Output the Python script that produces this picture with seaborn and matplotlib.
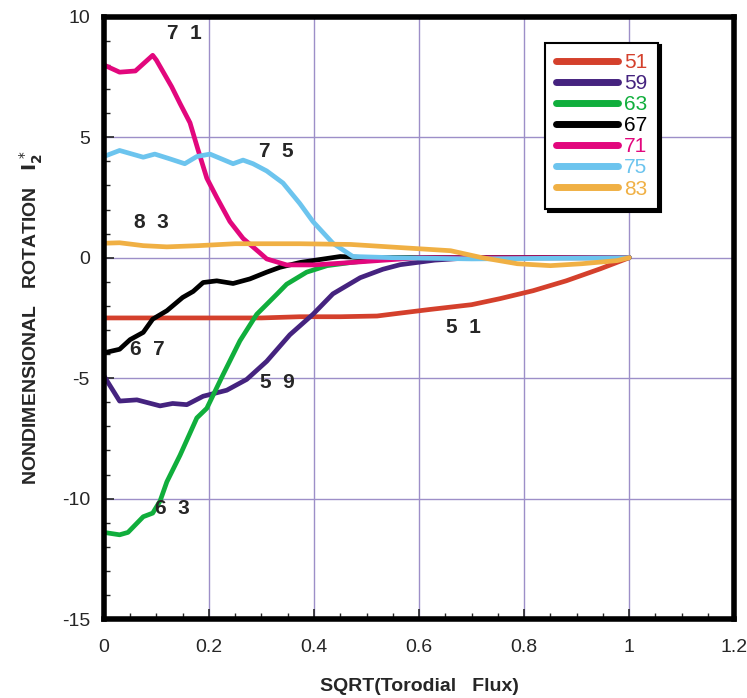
import numpy as np
import pandas as pd
import matplotlib
matplotlib.use("Agg")
import matplotlib.pyplot as plt
import seaborn as sns

# profiles
x51 = [0.0, 0.1, 0.2, 0.3, 0.373, 0.45, 0.52, 0.564, 0.62, 0.66, 0.70, 0.754, 0.817, 0.88, 0.945, 1.0]
y51 = [-2.5, -2.5, -2.5, -2.5, -2.45, -2.45, -2.42, -2.3, -2.15, -2.05, -1.95, -1.7, -1.37, -0.96, -0.46, 0.0]

x59 = [0.0, 0.03, 0.063, 0.107, 0.131, 0.158, 0.189, 0.234, 0.272, 0.31, 0.354, 0.398, 0.436, 0.488, 0.531, 0.564, 0.63, 0.7, 1.0]
y59 = [-4.9, -5.95, -5.9, -6.15, -6.05, -6.1, -5.75, -5.5, -5.05, -4.3, -3.2, -2.35, -1.5, -0.83, -0.48, -0.29, -0.1, 0.0, 0.0]

x63 = [0.0, 0.03, 0.046, 0.075, 0.093, 0.107, 0.12, 0.145, 0.177, 0.196, 0.227, 0.259, 0.291, 0.33, 0.348, 0.386, 0.425, 0.47, 0.55, 1.0]
y63 = [-11.4, -11.5, -11.4, -10.75, -10.6, -10.1, -9.3, -8.2, -6.65, -6.25, -4.85, -3.45, -2.35, -1.5, -1.1, -0.6, -0.33, -0.2, 0.0, 0.0]

x67 = [0.0, 0.03, 0.05, 0.075, 0.093, 0.12, 0.15, 0.17, 0.189, 0.215, 0.246, 0.278, 0.31, 0.335, 0.373, 0.45, 0.5, 1.0]
y67 = [-3.95, -3.8, -3.4, -3.1, -2.55, -2.2, -1.65, -1.4, -1.03, -0.96, -1.07, -0.88, -0.6, -0.4, -0.2, 0.05, 0.0, 0.0]

x71 = [0.0, 0.03, 0.06, 0.093, 0.1, 0.129, 0.145, 0.164, 0.179, 0.196, 0.215, 0.24, 0.265, 0.297, 0.31, 0.348, 0.4, 0.47, 0.6, 1.0]
y71 = [8.0, 7.7, 7.75, 8.4, 8.2, 7.1, 6.4, 5.6, 4.5, 3.3, 2.5, 1.5, 0.8, 0.2, -0.05, -0.3, -0.3, -0.2, 0.0, 0.0]

x75 = [0.0, 0.03, 0.075, 0.097, 0.126, 0.154, 0.177, 0.202, 0.246, 0.265, 0.284, 0.31, 0.341, 0.373, 0.398, 0.436, 0.474, 0.55, 0.7, 1.0]
y75 = [4.2, 4.45, 4.17, 4.3, 4.1, 3.9, 4.2, 4.3, 3.9, 4.05, 3.9, 3.6, 3.1, 2.25, 1.5, 0.6, 0.05, 0.0, -0.05, 0.0]

x83 = [0.0, 0.03, 0.075, 0.12, 0.18, 0.25, 0.373, 0.47, 0.564, 0.66, 0.72, 0.787, 0.85, 0.91, 0.977, 1.0]
y83 = [0.6, 0.62, 0.5, 0.45, 0.5, 0.58, 0.58, 0.55, 0.42, 0.29, 0.0, -0.25, -0.33, -0.25, -0.12, 0.0]

shots = ["51", "59", "63", "67", "71", "75", "83"]
colors = ["#d4402c", "#45237f", "#10ae3c", "#000000", "#e2077d", "#6cc4ee", "#f0b044"]
xs = [x51, x59, x63, x67, x71, x75, x83]
ys = [y51, y59, y63, y67, y71, y75, y83]

# curve labels on the plot
lab_text = ["5  1", "5  9", "6  3", "6  7", "7  1", "7  5", "8  3"]
lab_x = [0.684, 0.331, 0.13, 0.082, 0.154, 0.328, 0.091]
lab_y = [-2.9, -5.2, -10.4, -3.8, 9.3, 4.4, 1.46]

frames = []
for s, x, y in zip(shots, xs, ys):
    frames.append(pd.DataFrame({"x": x, "y": y, "shot": s}))
df = pd.concat(frames, ignore_index=True)

sns.set_style("white")
plt.rcParams["font.family"] = ["Liberation Sans", "DejaVu Sans"]

fig = plt.figure(figsize=(7.47, 6.98), dpi=100)
ax = fig.add_axes([0.139, 0.113, 0.844, 0.863])

ax.grid(True, color="#9d8fc8", linewidth=1.0)
ax.set_axisbelow(True)

sns.lineplot(data=df, x="x", y="y", hue="shot", palette=dict(zip(shots, colors)),
             hue_order=shots, sort=False, estimator=None, linewidth=3.4, ax=ax)

for t, lx, ly in zip(lab_text, lab_x, lab_y):
    ax.text(lx, ly, t, fontsize=15, fontweight="bold", ha="center", va="center")

ax.set_xlim(0, 1.2)
ax.set_ylim(-15, 10)
ax.set_xticks([0, 0.2, 0.4, 0.6, 0.8, 1.0, 1.2])
ax.set_xticklabels(["0", "0.2", "0.4", "0.6", "0.8", "1", "1.2"], fontsize=14)
ax.set_yticks([-15, -10, -5, 0, 5, 10])
ax.set_yticklabels(["-15", "-10", "-5", "0", "5", "10"], fontsize=14)
ax.set_xticks(np.arange(0, 1.21, 0.05), minor=True)
ax.set_yticks(np.arange(-15, 10.1, 1), minor=True)
ax.tick_params(which="both", direction="in", left=True, bottom=True)
ax.tick_params(which="major", length=7, width=1.2)
ax.tick_params(axis="x", which="major", pad=14)
ax.tick_params(axis="y", which="major", pad=10)
ax.tick_params(which="minor", length=4, width=1.0)

for sp in ax.spines.values():
    sp.set_linewidth(4)
    sp.set_color("black")

ax.set_xlabel("SQRT(Torodial   Flux)", fontsize=14, fontweight="bold", labelpad=16)
ax.set_ylabel(r"NONDIMENSIONAL   ROTATION   $\mathbf{I}_\mathbf{2}^{\,*}$",
              fontsize=14, fontweight="bold", labelpad=12)

leg = ax.legend(loc="upper right", bbox_to_anchor=(0.879, 0.957), frameon=True,
                fancybox=False, shadow={"color": "black", "alpha": 1.0}, fontsize=15,
                handlelength=3.0, handletextpad=0.3, labelspacing=0.1,
                borderpad=0.5, borderaxespad=0, title=None)
leg.get_frame().set_edgecolor("black")
leg.get_frame().set_linewidth(1.5)
for txt, c in zip(leg.get_texts(), colors):
    txt.set_color(c)
for ln in leg.get_lines():
    ln.set_linewidth(5)

fig.savefig("out.png", dpi=100)
